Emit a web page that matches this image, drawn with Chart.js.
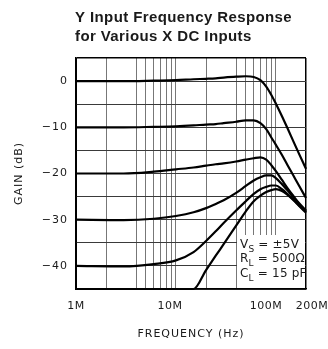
<!DOCTYPE html>
<html>
<head>
<meta charset="utf-8">
<script src="https://cdn.jsdelivr.net/npm/chart.js@4.4.1/dist/chart.umd.min.js"></script>
<style>
    html, body { margin: 0; padding: 0; background: #fff; }
    canvas { display: block; }
</style>
</head>
<body>
<canvas id="gainChart" width="328" height="349"></canvas>
<script>

// =========================
// Data
// =========================

// frequency in MHz, shared by every curve
const freqMHz = [1, 3, 6, 10, 15, 20, 25, 30, 40, 50, 60, 70, 80, 90, 100, 115, 130, 150, 170, 200];

// gain in dB for each X DC input
const gain0  = [0, 0, 0.1, 0.2, 0.4, 0.5, 0.6, 0.75, 0.95, 1.05, 0.9, 0.2, -1.2, -3.0, -4.9, -7.6, -10.1, -13.1, -15.7, -19.0];
const gain10 = [-10, -10, -9.9, -9.8, -9.6, -9.4, -9.3, -9.1, -8.8, -8.5, -8.5, -9.1, -10.4, -12.2, -13.8, -16.0, -18.1, -20.5, -22.6, -25.3];
const gain20 = [-20, -20, -19.6, -19.1, -18.7, -18.3, -18.0, -17.8, -17.4, -17.0, -16.7, -16.5, -17.0, -18.2, -19.5, -21.4, -23.1, -24.9, -26.4, -28.0];
const gain30 = [-30, -30.1, -29.8, -29.2, -28.4, -27.5, -26.6, -25.8, -24.2, -22.7, -21.5, -20.8, -20.4, -20.4, -21.0, -22.3, -23.6, -25.2, -26.6, -28.3];
const gain40 = [-40, -40.1, -39.6, -38.8, -37.0, -34.6, -32.5, -30.7, -28.0, -26.0, -24.4, -23.4, -22.9, -22.6, -22.6, -23.4, -24.4, -25.7, -26.9, -28.3];
const gain45 = [-45, -45, -45, -45, -45, -40.9, -37.8, -35.3, -31.3, -28.2, -26.0, -24.8, -24.0, -23.6, -23.4, -23.8, -24.6, -25.8, -27.0, -28.5];

const curves = [gain0, gain10, gain20, gain30, gain40, gain45];

// axes
const gridMHz = [1, 2, 3, 4, 5, 6, 7, 8, 9, 10, 20, 30, 40, 50, 60, 70, 80, 90, 100, 200];
const hiddenGridMHz = [3, 30];
const freqLabelMHz = [1, 10, 100, 200];
const freqLabels = ["1M", "10M", "100M", "200M"];
const gainLabelled = [0, -10, -20, -30, -40];

const titleLines = ["Y Input Frequency Response", "for Various X DC Inputs"];
const noteLines = [
    ["V", "S", " = ±5V"],
    ["R", "L", " = 500Ω"],
    ["C", "L", " = 15 pF"]
];

// =========================
// Extra drawing
// =========================

const TEXT_COLOR = "#1a1a1a";

const extraText = {
    id: "extraText",

    beforeDraw(chart) {
        chart.ctx.letterSpacing = "1px";
    },

    // white note box hides the grid behind the conditions
    beforeDatasetsDraw(chart) {
        const { ctx, chartArea } = chart;
        ctx.save();
        ctx.fillStyle = "#fff";
        ctx.fillRect(chartArea.right - 69, chartArea.top + 177,
            68, chartArea.bottom - chartArea.top - 178);
        ctx.restore();
    },

    afterDraw(chart) {
        const { ctx, chartArea, scales } = chart;
        ctx.save();
        ctx.fillStyle = TEXT_COLOR;

        // title
        ctx.letterSpacing = "0.4px";
        ctx.font = "bold 15px 'Liberation Sans', Arial, sans-serif";
        ctx.textAlign = "left";
        ctx.textBaseline = "alphabetic";
        ctx.fillText(titleLines[0], chartArea.left - 1, 22);
        ctx.fillText(titleLines[1], chartArea.left - 1, 40.5);

        // frequency labels
        const shift = { 1: 0, 10: -6, 100: -10, 200: 6 };
        ctx.letterSpacing = "0.5px";
        ctx.font = "11px 'DejaVu Sans', sans-serif";
        ctx.textAlign = "center";
        ctx.textBaseline = "middle";
        freqLabelMHz.forEach((f, i) => {
            const x = scales.x.getPixelForValue(f) + shift[f];
            ctx.fillText(freqLabels[i], x, chartArea.bottom + 17);
        });

        // test conditions
        ctx.letterSpacing = "0.2px";
        ctx.textAlign = "left";
        ctx.textBaseline = "alphabetic";
        noteLines.forEach((parts, i) => {
            let x = chartArea.right - 66;
            const y = chartArea.bottom - 41.5 + i * 14.5;
            ctx.font = "12px 'DejaVu Sans', sans-serif";
            ctx.fillText(parts[0], x, y);
            x += ctx.measureText(parts[0]).width;
            ctx.font = "9px 'DejaVu Sans', sans-serif";
            ctx.fillText(parts[1], x, y + 4);
            x += ctx.measureText(parts[1]).width;
            ctx.font = "12px 'DejaVu Sans', sans-serif";
            ctx.fillText(parts[2], x, y);
        });

        ctx.restore();
    }
};

// =========================
// Chart
// =========================

const ctx = document.getElementById("gainChart");

new Chart(ctx, {
    type: "line",
    data: {
        datasets: curves.map(g => ({
            data: freqMHz.map((f, i) => ({ x: f, y: g[i] })),
            borderColor: "#000",
            borderWidth: 2.2,
            pointRadius: 0,
            fill: false,
            clip: 3,
            cubicInterpolationMode: "monotone"
        }))
    },
    options: {
        responsive: false,
        animation: false,
        layout: {
            padding: { top: 58, right: 22, left: 0, bottom: 0 }
        },
        plugins: {
            legend: { display: false },
            tooltip: { enabled: false },
            title: { display: false }
        },
        scales: {
            x: {
                type: "logarithmic",
                min: 1,
                max: 200,
                afterBuildTicks: scale => {
                    scale.ticks = gridMHz.map(v => ({ value: v }));
                },
                afterFit: scale => { scale.height = 60; },
                ticks: { display: false },
                grid: {
                    drawTicks: false,
                    color: c => {
                        const v = c.tick ? c.tick.value : null;
                        if (hiddenGridMHz.includes(v)) return "rgba(0,0,0,0)";
                        if (v === 200 || v === 1) return "#000";
                        return "#777";
                    },
                    lineWidth: c => (c.tick && c.tick.value === 200 ? 1.5 : 1)
                },
                border: { color: "#000", width: 1.5 },
                title: {
                    display: true,
                    text: "FREQUENCY (Hz)",
                    color: TEXT_COLOR,
                    font: { family: "'DejaVu Sans', sans-serif", size: 11 },
                    padding: { top: 0, bottom: 8 }
                }
            },
            y: {
                min: -45,
                max: 5,
                afterFit: scale => { scale.width = 76; },
                ticks: {
                    stepSize: 5,
                    autoSkip: false,
                    padding: 8,
                    color: TEXT_COLOR,
                    font: { family: "'DejaVu Sans', sans-serif", size: 11 },
                    callback: v => gainLabelled.includes(v)
                        ? (v < 0 ? "\u2212" + Math.abs(v) : String(v))
                        : ""
                },
                grid: {
                    drawTicks: false,
                    color: c => (c.tick && c.tick.value === 5 ? "#000" : "#3a3a3a"),
                    lineWidth: c => (c.tick && c.tick.value === 5 ? 1.5 : 1)
                },
                border: { color: "#000", width: 1.5 },
                title: {
                    display: true,
                    text: "GAIN (dB)",
                    color: TEXT_COLOR,
                    font: { family: "'DejaVu Sans', sans-serif", size: 11 },
                    padding: { top: 13, bottom: 0 }
                }
            }
        }
    },
    plugins: [extraText]
});

</script>
</body>
</html>
